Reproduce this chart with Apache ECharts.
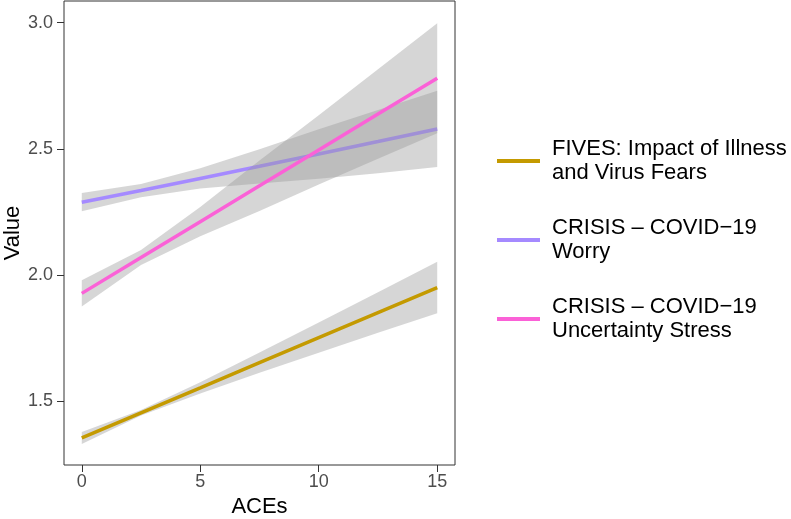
<!DOCTYPE html>
<html>
<head>
<meta charset="utf-8">
<script src="https://cdn.jsdelivr.net/npm/echarts@6/dist/echarts.min.js"></script>
<style>
  html, body { margin: 0; padding: 0; background: #fff; }
  #chart { width: 791px; height: 519px; }
</style>
</head>
<body>
<div id="chart"></div>
<script>
const xs = [0, 2.5, 5, 7.5, 10, 12.5, 15];
const xTicks = [0, 5, 10, 15];
const yTicks = [1.5, 2.0, 2.5, 3.0];

const names = [
  "FIVES: Impact of Illness\nand Virus Fears",
  "CRISIS \u2013 COVID\u221219\nWorry",
  "CRISIS \u2013 COVID\u221219\nUncertainty Stress"
];
const colors = ["#C49A00", "#A58AFF", "#FB61D7"];

const fivesFit = [1.356, 1.455, 1.554, 1.654, 1.753, 1.852, 1.951];
const fivesLow = [1.332, 1.444, 1.532, 1.614, 1.693, 1.772, 1.849];
const fivesHigh = [1.379, 1.466, 1.576, 1.694, 1.813, 1.932, 2.053];

const worryFit = [2.289, 2.335, 2.383, 2.431, 2.480, 2.529, 2.579];
const worryLow = [2.253, 2.309, 2.343, 2.363, 2.382, 2.404, 2.428];
const worryHigh = [2.325, 2.361, 2.423, 2.499, 2.578, 2.654, 2.730];

const stressFit = [1.928, 2.070, 2.212, 2.354, 2.496, 2.638, 2.780];
const stressLow = [1.876, 2.040, 2.154, 2.254, 2.359, 2.461, 2.562];
const stressHigh = [1.980, 2.100, 2.270, 2.454, 2.633, 2.815, 2.998];

const fits = [fivesFit, worryFit, stressFit];
const lows = [fivesLow, worryLow, stressLow];
const highs = [fivesHigh, worryHigh, stressHigh];

const font = "'Liberation Sans', Arial, Helvetica, sans-serif";

const bandSeries = (i) => ({
  type: "custom",
  coordinateSystem: "cartesian2d",
  silent: true,
  z: 1 + i * 2,
  data: [[xs[0], lows[i][0]]],
  renderItem: (params, api) => {
    const pts = [];
    xs.forEach((x, k) => pts.push(api.coord([x, highs[i][k]])));
    for (let k = xs.length - 1; k >= 0; k--) pts.push(api.coord([xs[k], lows[i][k]]));
    return {
      type: "polygon",
      shape: { points: pts },
      style: { fill: "rgba(153,153,153,0.4)" }
    };
  }
});

const lineSeries = (i) => ({
  name: names[i],
  type: "line",
  z: 2 + i * 2,
  color: colors[i],
  showSymbol: false,
  silent: true,
  data: xs.map((x, k) => [x, fits[i][k]]),
  lineStyle: { color: colors[i], width: 3.5 },
  itemStyle: { color: colors[i] }
});

const chart = echarts.init(document.getElementById("chart"));
chart.setOption({
  animation: false,
  textStyle: { fontFamily: font },
  grid: {
    left: 64,
    right: 336,
    top: 1,
    bottom: 54,
    outerBoundsMode: "none",
    containLabel: false,
    show: true,
    borderColor: "#333333",
    borderWidth: 1,
    backgroundColor: "#ffffff"
  },
  legend: {
    orient: "vertical",
    left: 492,
    top: 132,
    itemWidth: 43,
    itemHeight: 4,
    itemGap: 31,
    icon: "rect",
    selectedMode: false,
    data: names,
    textStyle: {
      fontFamily: font,
      fontSize: 22,
      lineHeight: 24,
      color: "#000000",
      padding: [0, 0, 0, 7]
    }
  },
  xAxis: {
    type: "value",
    min: -0.75,
    max: 15.75,
    name: "ACEs",
    nameLocation: "middle",
    nameGap: 30,
    nameTextStyle: { fontSize: 22, color: "#000000", fontFamily: font },
    axisLine: { show: false, onZero: false },
    splitLine: { show: false },
    axisTick: {
      show: true,
      length: 7,
      customValues: xTicks,
      lineStyle: { color: "#333333" }
    },
    axisLabel: {
      customValues: xTicks,
      margin: 8,
      fontSize: 18,
      color: "#4D4D4D",
      fontFamily: font
    }
  },
  yAxis: {
    type: "value",
    min: 1.2485,
    max: 3.0856,
    name: "Value",
    nameLocation: "middle",
    nameGap: 40,
    nameTextStyle: { fontSize: 22, color: "#000000", fontFamily: font },
    axisLine: { show: false, onZero: false },
    splitLine: { show: false },
    axisTick: {
      show: true,
      length: 7,
      customValues: yTicks,
      lineStyle: { color: "#333333" }
    },
    axisLabel: {
      customValues: yTicks,
      margin: 11,
      fontSize: 18,
      color: "#4D4D4D",
      fontFamily: font,
      formatter: (v) => v.toFixed(1)
    }
  },
  series: [
    bandSeries(0), lineSeries(0),
    bandSeries(1), lineSeries(1),
    bandSeries(2), lineSeries(2)
  ]
});
</script>
</body>
</html>
